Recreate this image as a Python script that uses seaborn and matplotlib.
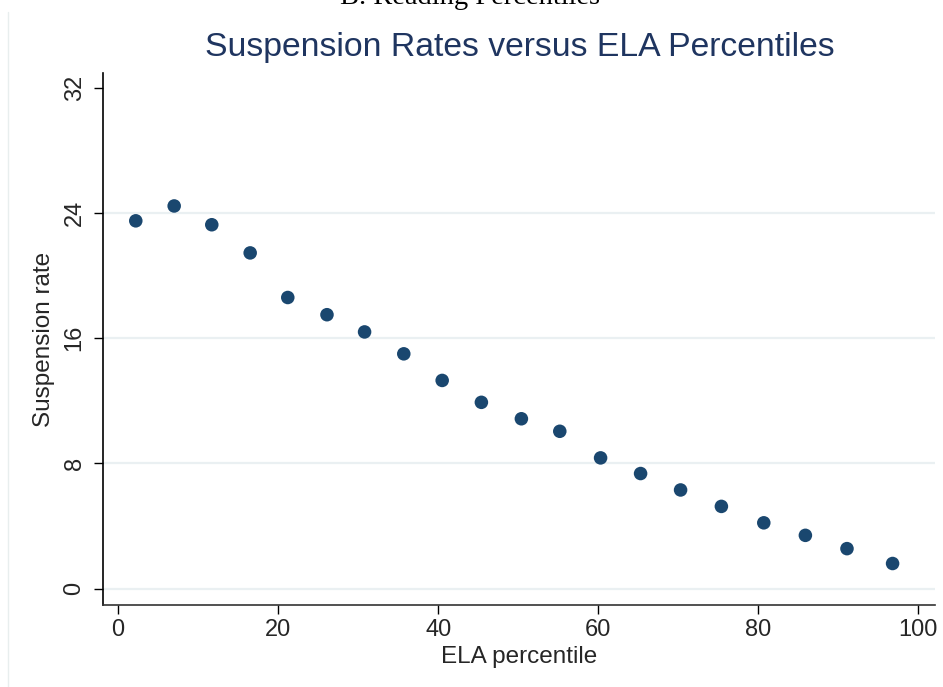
import matplotlib
matplotlib.use("Agg")
import matplotlib.pyplot as plt
from matplotlib.lines import Line2D
import seaborn as sns
import pandas as pd

# values
ela_percentile = [2.2, 7.0, 11.7, 16.5, 21.2, 26.1, 30.8, 35.7, 40.5, 45.4,
                  50.4, 55.2, 60.3, 65.3, 70.3, 75.4, 80.7, 85.9, 91.1, 96.8]
suspension_rate = [23.5, 24.45, 23.25, 21.45, 18.6, 17.5, 16.4, 15.0, 13.3, 11.9,
                   10.85, 10.05, 8.35, 7.35, 6.3, 5.25, 4.2, 3.4, 2.55, 1.6]
x_ticks = [0, 20, 40, 60, 80, 100]
y_ticks = [0, 8, 16, 24, 32]

df = pd.DataFrame({"ELA percentile": ela_percentile,
                   "Suspension rate": suspension_rate})

sns.set_style("white")
plt.rcParams["font.family"] = ["Liberation Sans", "DejaVu Sans"]

navy = "#1a476f"
grid_col = "#eaf0f2"

fig = plt.figure(figsize=(9.43, 6.87), dpi=100)
ax = fig.add_axes([0.1092, 0.1194, 0.8823, 0.7744])

sns.scatterplot(data=df, x="ELA percentile", y="Suspension rate", ax=ax,
                color=navy, s=95, edgecolor="none", zorder=3)

ax.set_xlim(-1.9, 102.1)
ax.set_ylim(-1.05, 32.95)
ax.set_xticks(x_ticks)
ax.set_yticks(y_ticks)
ax.set_xticklabels([str(t) for t in x_ticks], fontsize=17)
ax.set_yticklabels([str(t) for t in y_ticks], fontsize=17, rotation=90, va="center")
ax.tick_params(axis="both", direction="out", length=6.5, width=1, color="black",
               bottom=True, left=True)
ax.tick_params(axis="x", pad=3.5)
ax.tick_params(axis="y", pad=6)

ax.yaxis.grid(True, color=grid_col, linewidth=1.6)
ax.xaxis.grid(False)
ax.set_axisbelow(True)
ax.yaxis.get_gridlines()[-1].set_visible(False)

for side in ["top", "right"]:
    ax.spines[side].set_visible(False)
ax.spines["left"].set_color("black")
ax.spines["bottom"].set_color("#333333")
ax.spines["left"].set_linewidth(1.2)
ax.spines["bottom"].set_linewidth(1.2)

ax.set_xlabel("ELA percentile", fontsize=17.5, labelpad=4)
ax.set_ylabel("Suspension rate", fontsize=17.5, labelpad=6)

fig.text(0.551, 0.931, "Suspension Rates versus ELA Percentiles",
         ha="center", va="center", fontsize=24.3, color="#1f3560")

# cut-off panel heading above the chart (partly outside the figure, as in the source)
fig.text(0.498, 0.994, "B. Reading Percentiles", ha="center", va="baseline",
         fontsize=20.5, family=["Liberation Serif", "DejaVu Serif"], color="black")

# faint frame line on the left
fig.add_artist(Line2D([0.0085, 0.0085], [0.0, 0.982], transform=fig.transFigure,
                      color="#e8eeee", linewidth=1))

fig.savefig("out.png", dpi=100, facecolor="white")
